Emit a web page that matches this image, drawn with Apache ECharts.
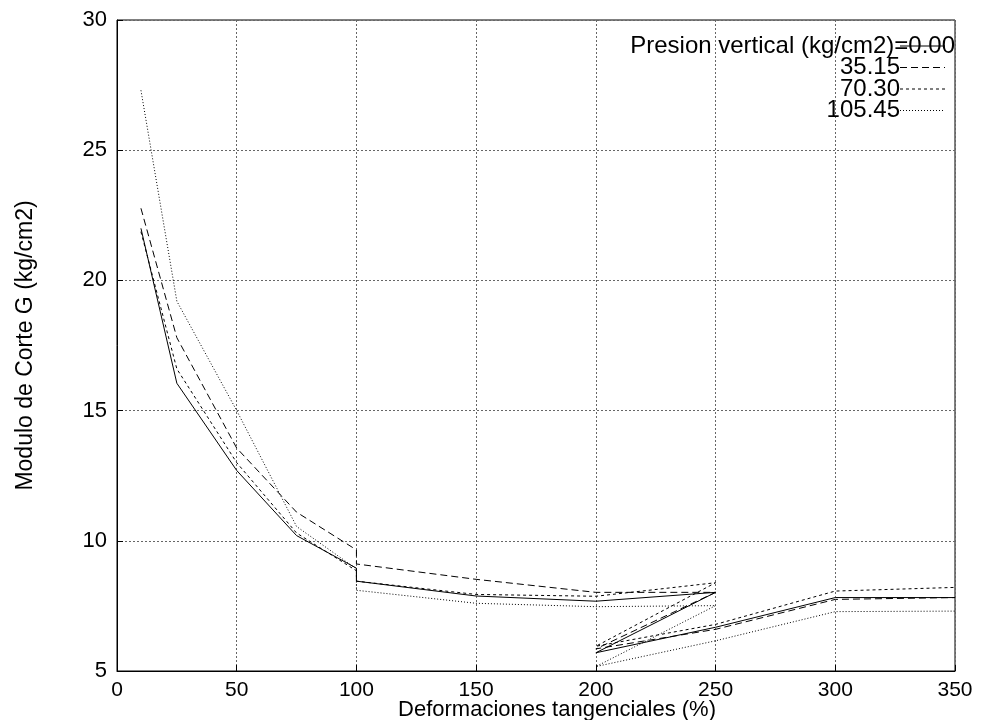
<!DOCTYPE html>
<html>
<head>
<meta charset="utf-8">
<script src="https://cdn.jsdelivr.net/npm/echarts@6/dist/echarts.min.js"></script>
<style>
  html, body { margin: 0; padding: 0; background: #fff; }
  #chart { width: 981px; height: 720px; }
</style>
</head>
<body>
<div id="chart"></div>
<script>
// Shear strain steps (%) of the loading sequence: first loading to 100,
// reload 100 -> 250, then unload to 200 and reload up to 350.
const strain = [10, 25, 50, 75, 100, 100, 150, 200, 250, 200, 250, 300, 350];

// Vertical pressure levels (kg/cm2)
const pressures = ['0.00', '35.15', '70.30', '105.45'];

// Shear modulus G (kg/cm2) for each vertical pressure
const g_000 = [22.0, 16.05, 12.7, 10.2, 8.95, 8.45, 7.88, 7.68, 8.02, 5.70, 6.68, 7.82, 7.82];
const g_3515 = [22.77, 17.8, 13.56, 11.1, 9.65, 9.11, 8.52, 8.02, 8.02, 5.85, 6.60, 7.75, 7.82];
const g_7030 = [21.87, 16.6, 13.0, 10.3, 8.85, 8.45, 7.94, 7.87, 8.39, 5.95, 6.79, 8.07, 8.21];
const g_10545 = [27.3, 19.2, 15.0, 10.55, 8.92, 8.10, 7.60, 7.47, 7.51, 5.17, 6.16, 7.28, 7.30];

const xTicks = [0, 50, 100, 150, 200, 250, 300, 350];
const yTicks = [5, 10, 15, 20, 25, 30];

const seriesValues = [g_000, g_3515, g_7030, g_10545];
const dashStyles = ['solid', [7, 4], [3, 3], [1, 2]];

const FONT = 'Liberation Sans, Arial, sans-serif';
const chart = echarts.init(document.getElementById('chart'), null, { renderer: 'canvas' });

const gridRect = { left: 117, right: 26, top: 20, bottom: 49 };

const series = pressures.map((p, k) => ({
  name: p,
  type: 'line',
  symbol: 'none',
  silent: true,
  animation: false,
  lineStyle: { color: '#000', width: 1, type: dashStyles[k] },
  data: strain.map((x, i) => [x, seriesValues[k][i]])
}));

// Key in the upper right corner: text right-aligned, line sample beside it
const keyRight = 955, sampleX1 = 900, sampleX2 = 945;
const rowY = [46, 67.5, 89, 110.5];
const keyText = ['Presion vertical (kg/cm2)=' + pressures[0]].concat(pressures.slice(1));
const keyGraphics = [];
keyText.forEach((t, k) => {
  keyGraphics.push({
    type: 'text',
    silent: true,
    style: {
      text: t,
      x: k === 0 ? keyRight : sampleX1,
      y: rowY[k],
      align: 'right',
      verticalAlign: 'middle',
      font: '24px ' + FONT,
      fill: '#000'
    },
    z: 10
  });
  const dash = dashStyles[k] === 'solid' ? null : dashStyles[k];
  keyGraphics.push({
    type: 'line',
    silent: true,
    shape: { x1: sampleX1, y1: rowY[k], x2: sampleX2, y2: rowY[k] },
    style: { stroke: '#000', lineWidth: 1, lineDash: dash },
    z: 11
  });
});

const option = {
  backgroundColor: '#fff',
  animation: false,
  grid: Object.assign({
    show: true, borderColor: '#000', borderWidth: 1, backgroundColor: 'transparent',
    containLabel: false, outerBoundsMode: 'none'
  }, gridRect),
  xAxis: {
    type: 'value',
    min: xTicks[0],
    max: xTicks[xTicks.length - 1],
    interval: 50,
    name: 'Deformaciones tangenciales (%)',
    nameLocation: 'middle',
    nameGap: 28,
    nameMoveOverlap: false,
    nameTextStyle: { fontFamily: FONT, fontSize: 22, color: '#000', padding: [0, 0, 0, 42] },
    axisLine: { show: true, lineStyle: { color: '#000', width: 1 } },
    axisTick: { show: true, inside: true, length: 6, lineStyle: { color: '#000' } },
    axisLabel: { fontFamily: FONT, fontSize: 21, color: '#000', margin: 9 },
    splitLine: { show: true, lineStyle: { color: '#666', width: 1, type: [2, 2] } }
  },
  yAxis: {
    type: 'value',
    min: yTicks[0],
    max: yTicks[yTicks.length - 1],
    interval: 5,
    name: 'Modulo de Corte G (kg/cm2)',
    nameLocation: 'middle',
    nameGap: 80,
    nameMoveOverlap: false,
    nameTextStyle: { fontFamily: FONT, fontSize: 23, color: '#000' },
    axisLine: { show: true, lineStyle: { color: '#000', width: 1 } },
    axisTick: { show: true, inside: true, length: 6, lineStyle: { color: '#000' } },
    axisLabel: { fontFamily: FONT, fontSize: 22, color: '#000', margin: 10 },
    splitLine: { show: true, lineStyle: { color: '#666', width: 1, type: [2, 2] } }
  },
  series: series,
  graphic: keyGraphics
};

chart.setOption(option);
</script>
</body>
</html>
